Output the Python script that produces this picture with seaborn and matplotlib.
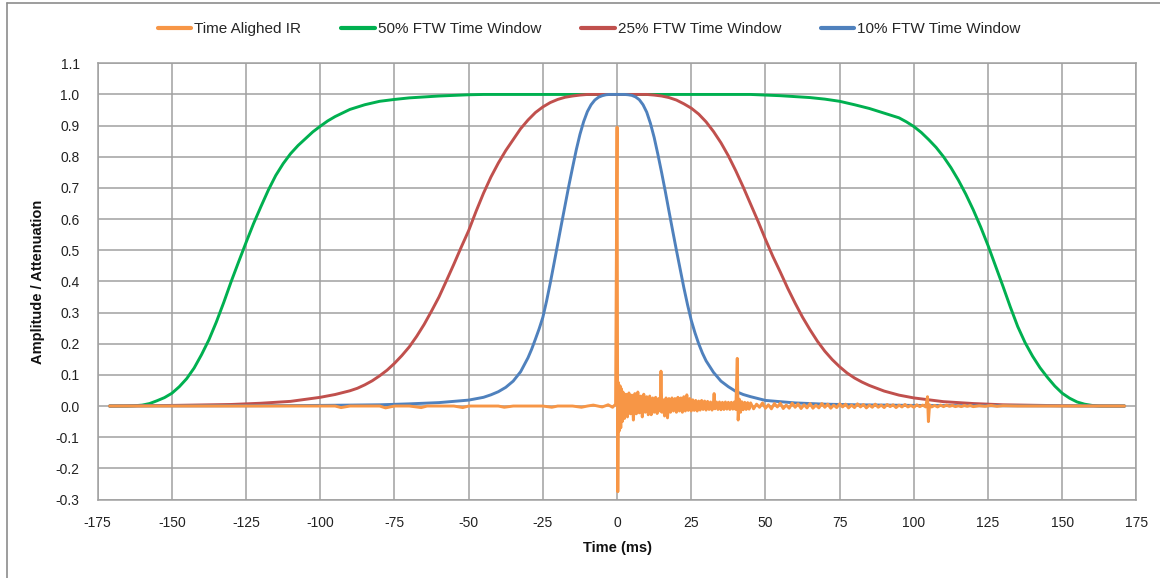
import matplotlib
matplotlib.use("Agg")
import matplotlib.pyplot as plt
import seaborn as sns
from matplotlib.lines import Line2D

# Ventana 50% FTW (verde)
w50_time = [-171, -165, -162.5, -160, -157.5, -155, -152.5, -150, -147.5, -145, -142.5, -140, -137.5, -135,
            -132.5, -130, -127.5, -125, -122.5, -120, -117.5, -115, -112.5, -110, -107.5, -105, -102.5, -100,
            -97.5, -95, -90, -85, -80, -75, -70, -65, -60, -55, -50, -45, 0,
            45, 50, 55, 60, 65, 70, 75, 80, 85, 90, 95, 97.5, 100, 102.5, 105, 107.5, 110, 112.5, 115,
            117.5, 120, 122.5, 125, 127.5, 130, 132.5, 135, 137.5, 140, 142.5, 145, 147.5, 150, 152.5,
            155, 157.5, 160, 162.5, 165, 171]
w50_vals = [0.0, 0.0, 0.001, 0.003, 0.008, 0.017, 0.027, 0.041, 0.062, 0.088, 0.122, 0.165, 0.213, 0.27,
            0.333, 0.40, 0.463, 0.525, 0.585, 0.64, 0.693, 0.74, 0.778, 0.81, 0.836, 0.858, 0.88, 0.898,
            0.915, 0.929, 0.952, 0.967, 0.978, 0.984, 0.989, 0.992, 0.995, 0.997, 0.999, 1.0, 1.0,
            1.0, 0.998, 0.996, 0.993, 0.99, 0.985, 0.978, 0.967, 0.955, 0.94, 0.925, 0.912, 0.897, 0.878, 0.855, 0.83, 0.80, 0.765, 0.725,
            0.68, 0.63, 0.575, 0.515, 0.45, 0.385, 0.318, 0.255, 0.203, 0.16, 0.123, 0.092, 0.064, 0.041, 0.025,
            0.013, 0.006, 0.002, 0.0, 0.0, 0.0]

# Ventana 25% FTW (roja)
w25_time = [-171, -150, -130, -120, -110, -100, -95, -90, -87.5, -85, -82.5, -80, -77.5, -75, -72.5, -70,
            -67.5, -65, -62.5, -60, -57.5, -55, -52.5, -50, -47.5, -45, -42.5, -40, -37.5, -35, -32.5, -30,
            -27.5, -25, -22.5, -20, -17.5, -15, -12.5, -10, 0,
            10, 12.5, 15, 17.5, 20, 22.5, 25, 27.5, 30, 32.5, 35, 37.5, 40, 42.5, 45, 47.5, 50,
            52.5, 55, 57.5, 60, 62.5, 65, 67.5, 70, 72.5, 75, 77.5, 80, 82.5, 85, 87.5, 90,
            95, 100, 110, 120, 130, 150, 171]
w25_vals = [0.0, 0.002, 0.005, 0.009, 0.015, 0.028, 0.037, 0.049, 0.057, 0.068, 0.081, 0.097, 0.115, 0.137, 0.162, 0.19,
            0.224, 0.262, 0.305, 0.35, 0.402, 0.455, 0.51, 0.563, 0.625, 0.683, 0.735, 0.78, 0.82, 0.855, 0.89, 0.918,
            0.942, 0.96, 0.974, 0.984, 0.991, 0.995, 0.998, 1.0, 1.0,
            1.0, 0.998, 0.995, 0.99, 0.982, 0.97, 0.956, 0.937, 0.912, 0.881, 0.845, 0.803, 0.755, 0.703, 0.648, 0.593, 0.535,
            0.48, 0.43, 0.378, 0.33, 0.285, 0.245, 0.208, 0.176, 0.149, 0.126, 0.106, 0.09, 0.077, 0.066, 0.057, 0.048,
            0.035, 0.026, 0.014, 0.008, 0.004, 0.001, 0.0]

# Ventana 10% FTW (azul)
w10_time = [-171, -120, -100, -80, -70, -60, -50, -45, -42.5, -40, -37.5, -35, -32.5, -30, -28.75, -27.5,
            -26.25, -25, -23.75, -22.5, -21.25, -20, -18.75, -17.5, -16.25, -15, -13.75, -12.5, -11.25, -10,
            -8.75, -7.5, -6.25, -5, -3.75, -2.5, 0, 2.5, 3.75, 5, 6.25, 7.5, 8.75, 10, 11.25, 12.5,
            13.75, 15, 16.25, 17.5, 18.75, 20, 21.25, 22.5, 23.75, 25, 26.25, 27.5, 28.75, 30, 32.5,
            35, 37.5, 40, 42.5, 45, 50, 60, 70, 80, 100, 120, 171]
w10_vals = [0.0, 0.001, 0.002, 0.004, 0.007, 0.011, 0.019, 0.028, 0.036, 0.046, 0.06, 0.08, 0.11, 0.155, 0.183, 0.215,
            0.248, 0.285, 0.337, 0.395, 0.457, 0.52, 0.583, 0.645, 0.707, 0.765, 0.822, 0.872, 0.913, 0.945,
            0.967, 0.982, 0.991, 0.996, 0.999, 1.0, 1.0, 1.0, 0.999, 0.997, 0.992, 0.983, 0.967, 0.943, 0.907, 0.862,
            0.808, 0.75, 0.689, 0.625, 0.562, 0.5, 0.44, 0.38, 0.325, 0.275, 0.235, 0.2, 0.17, 0.145, 0.108,
            0.08, 0.062, 0.047, 0.037, 0.03, 0.018, 0.01, 0.006, 0.004, 0.002, 0.001, 0.0]

# Respuesta al impulso alineada (naranja)
ir_time = [-171, -160, -150, -140, -130, -120, -110, -100, -95, -93, -90, -85, -80, -78, -75, -70,
           -66, -64, -60, -55, -52, -50, -45, -40, -38, -35, -30, -25, -22, -20, -15, -12,
           -10, -8, -5, -3, -1.5, -0.5,
           0.0, 0.25, 0.5, 0.75, 1.0, 1.25, 1.5, 1.75, 2.0, 2.5, 3.0, 3.5, 4.0, 4.5, 5.0, 5.5,
           6.0, 6.5, 7.0, 7.5, 8.0, 8.5, 9.0, 9.5, 10.0, 10.5, 11.0, 11.5, 12.0, 12.5, 13.0, 13.5,
           14.0, 14.5, 14.8, 15.1, 15.5, 16.0, 16.5, 17.0, 17.5, 18.0, 18.5, 19.0, 19.5, 20.0, 20.5, 21.0,
           21.5, 22.0, 22.5, 23.0, 23.5, 24.0, 24.5, 25.0, 25.5, 26.0, 26.5, 27.0, 27.5, 28.0, 28.5, 29.0,
           29.5, 30.0, 30.5, 31.0, 31.5, 32.0, 32.5, 32.7, 33.0, 33.5, 34.0, 34.5, 35.0, 35.5, 36.0, 36.5,
           37.0, 37.5, 38.0, 38.5, 39.0, 39.5, 40.0, 40.5, 40.8, 41.2, 41.6, 42.0, 42.5, 43.0, 43.5, 44.0,
           44.5, 45.0, 46, 47, 48, 49, 50, 51, 52, 53, 54, 55, 56, 57, 58, 59,
           60, 61, 62, 63, 64, 65, 66, 67, 68, 69, 70, 71, 72, 73, 74, 75,
           76, 77, 78, 79, 80, 81, 82, 83, 84, 85, 86, 87, 88, 89, 90, 91,
           92, 93, 94, 95, 96, 97, 98, 99, 100, 101, 102, 103, 104, 104.6, 104.9, 105.3,
           106, 107, 108, 109, 110, 111, 112, 113, 114, 115, 116, 117, 118, 119, 120, 122,
           124, 126, 128, 130, 135, 140, 150, 160, 171]
ir_vals = [0.0, 0.0, 0.0, 0.0, 0.0, 0.0, 0.0, 0.0, 0.0, -0.005, 0.0, 0.0, 0.0, -0.006, 0.0, 0.0,
           -0.005, 0.0, 0.0, 0.0, -0.005, 0.0, 0.0, 0.0, -0.004, 0.0, 0.0, 0.0, -0.004, 0.0, 0.0, -0.004,
           0.0, 0.003, -0.003, 0.004, -0.004, 0.006,
           0.895, -0.275, 0.075, -0.08, 0.065, -0.07, 0.055, -0.05, 0.045, -0.04, 0.038, -0.035, 0.042, -0.025, 0.035, -0.045,
           0.04, -0.025, 0.045, -0.022, 0.032, -0.035, 0.038, -0.02, 0.03, -0.028, 0.032, -0.028, 0.026, -0.02, 0.028, -0.024,
           0.024, -0.016, 0.112, -0.02, 0.02, -0.032, 0.026, -0.038, 0.024, -0.02, 0.026, -0.016, 0.024, -0.02, 0.028, -0.016,
           0.026, -0.02, 0.03, -0.016, 0.036, -0.014, 0.024, -0.016, 0.02, -0.014, 0.018, -0.016, 0.016, -0.013, 0.018, -0.011,
           0.016, -0.013, 0.015, -0.011, 0.013, -0.013, 0.015, 0.04, -0.009, 0.013, -0.011, 0.013, -0.012, 0.012, -0.011, 0.013,
           -0.01, 0.012, -0.011, 0.012, -0.01, 0.013, -0.011, 0.153, -0.045, 0.022, -0.02, 0.014, -0.012, 0.012, -0.011, 0.011,
           -0.01, 0.01, -0.009, 0.006, -0.004, 0.01, -0.007, 0.004, -0.009, 0.008, -0.003, 0.009, -0.008, 0.003, -0.007, 0.009,
           -0.004, 0.007, -0.008, 0.004, -0.006, 0.008, -0.007, 0.003, -0.006, 0.008, -0.004, 0.006, -0.007, 0.003, -0.005, 0.007,
           -0.003, 0.006, -0.006, 0.003, -0.005, 0.007, -0.003, 0.005, -0.006, 0.003, -0.004, 0.006, -0.004, 0.003, -0.005, 0.005,
           -0.002, 0.004, -0.005, 0.003, -0.003, 0.005, -0.003, 0.002, -0.004, 0.004, -0.002, 0.003, -0.003, 0.03, -0.05, 0.004,
           -0.003, 0.002, -0.003, 0.003, -0.002, 0.003, -0.001, 0.002, -0.002, 0.001, -0.002, 0.002, -0.001, 0.002, -0.002, 0.001,
           -0.001, 0.002, -0.001, 0.001, 0.0, 0.0, 0.0, 0.0, 0.0]

x_ticks = [-175, -150, -125, -100, -75, -50, -25, 0, 25, 50, 75, 100, 125, 150, 175]
y_ticks = [-0.3, -0.2, -0.1, 0.0, 0.1, 0.2, 0.3, 0.4, 0.5, 0.6, 0.7, 0.8, 0.9, 1.0, 1.1]

labels = ["Time Alighed IR", "50% FTW Time Window", "25% FTW Time Window", "10% FTW Time Window"]
colors = ["#F79646", "#00B050", "#C0504D", "#4F81BD"]

sns.set_theme(style="white")
plt.rcParams["font.family"] = ["Liberation Sans", "DejaVu Sans"]

fig = plt.figure(figsize=(11.6, 5.78), dpi=100)
ax = fig.add_axes([0.0842, 0.1358, 0.8955, 0.7547])

lw = 2.1
sns.lineplot(x=w50_time, y=w50_vals, ax=ax, color=colors[1], linewidth=lw, zorder=3)
sns.lineplot(x=w25_time, y=w25_vals, ax=ax, color=colors[2], linewidth=lw, zorder=3)
sns.lineplot(x=w10_time, y=w10_vals, ax=ax, color=colors[3], linewidth=lw, zorder=3)
sns.lineplot(x=ir_time, y=ir_vals, ax=ax, color=colors[0], linewidth=lw, zorder=4)

ax.set_xlim(-175, 175)
ax.set_ylim(-0.3, 1.1)
ax.set_xticks(x_ticks)
ax.set_yticks(y_ticks)
ax.set_xticklabels([str(t) for t in x_ticks])
ax.set_yticklabels([f"{t:.1f}" for t in y_ticks])
ax.grid(True, color="#a0a0a0", linewidth=1.1)
ax.set_axisbelow(True)
for s in ax.spines.values():
    s.set_color("#a0a0a0")
    s.set_linewidth(1.1)
ax.tick_params(axis="x", direction="out", length=4, width=1.1, color="#a0a0a0",
               pad=8, labelsize=10, labelcolor="#222222")
ax.tick_params(axis="y", length=0, pad=13, labelsize=10, labelcolor="#222222")

ax.set_xlabel("Time (ms)", fontsize=10.5, fontweight="bold", color="#111111")
ax.set_ylabel("Amplitude / Attenuation", fontsize=10.5, fontweight="bold", color="#111111")
ax.xaxis.set_label_coords(0.5, -0.095)
ax.yaxis.set_label_coords(-0.0507, 0.5)

handles = [Line2D([], [], color=c, linewidth=3) for c in colors]
fig.legend(handles, labels, loc="center", bbox_to_anchor=(0.508, 0.95), ncol=4, frameon=False,
           fontsize=11, handlelength=2.2, handletextpad=0.2, columnspacing=2.6)

# marco exterior del gráfico
fig.add_artist(Line2D([6.7 / 1160, 6.7 / 1160], [0, 1 - 3.3 / 578], color="#8c8c8c", linewidth=1.2))
fig.add_artist(Line2D([6.7 / 1160, 1], [1 - 3.3 / 578, 1 - 3.3 / 578], color="#8c8c8c", linewidth=1.2))

fig.savefig("out.png", dpi=100)
